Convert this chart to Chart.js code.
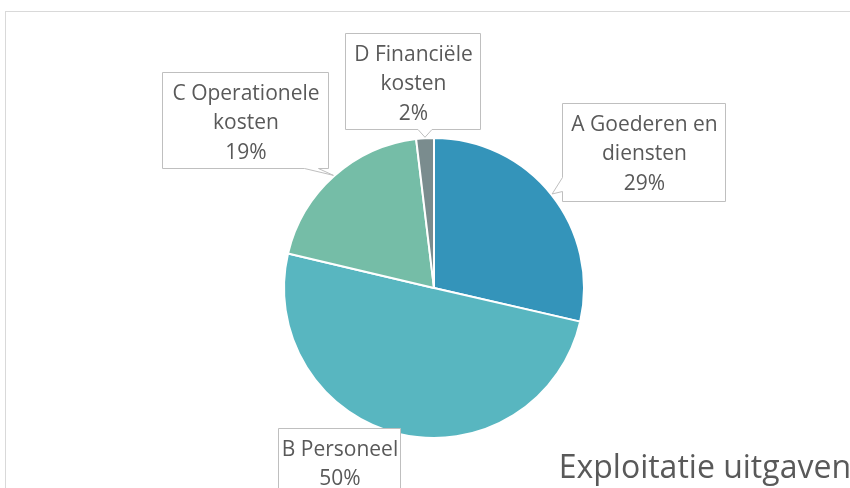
<!DOCTYPE html>
<html>
<head>
<meta charset="utf-8">
<script src="https://cdn.jsdelivr.net/npm/chart.js@4"></script>
<style>
  html, body { margin: 0; padding: 0; background: #fff; }
  #wrap { width: 850px; height: 488px; position: relative; }
</style>
</head>
<body>
<div id="wrap"><canvas id="pie"></canvas></div>
<script>
const categories = ["A Goederen en diensten", "B Personeel", "C Operationele kosten", "D Financiële kosten"];
const values = [28.6, 50.1, 19.4, 1.9];
const colors = ["#3494BA", "#58B6C0", "#75BDA7", "#7A8C8E"];
const chartTitle = "Exploitatie uitgaven";

// callout boxes, same order as categories (x, y, w, h in px)
const boxes = [
  { x: 562, y: 103, w: 163, h: 98 },
  { x: 278, y: 428, w: 122, h: 70 },
  { x: 162, y: 72, w: 166, h: 96 },
  { x: 345, y: 33, w: 135, h: 96 }
];

const textColor = "#595959";
const labelFont = '21px "Open Sans"';

function wrapText(ctx, text, maxW) {
  const words = text.split(" ");
  const lines = [];
  let cur = "";
  for (let w of words) {
    const test = cur ? cur + " " + w : w;
    if (ctx.measureText(test).width > maxW && cur) {
      lines.push(cur);
      cur = w;
    } else cur = test;
  }
  lines.push(cur);
  return lines;
}

function calloutPath(ctx, b, tip) {
  const x0 = b.x, y0 = b.y, x1 = b.x + b.w, y1 = b.y + b.h;
  const half = 7;
  let side = null;
  if (tip) {
    if (tip.y > y1) side = "bottom";
    else if (tip.y < y0) side = "top";
    else if (tip.x < x0) side = "left";
    else if (tip.x > x1) side = "right";
  }
  const clamp = (v, a, c) => Math.max(a, Math.min(c, v));
  ctx.beginPath();
  ctx.moveTo(x0, y0);
  ctx.lineTo(x1, y0);
  ctx.lineTo(x1, y1);
  if (side === "bottom") {
    const c = clamp(tip.x, x0 + 10 + half, x1 - 10 - half);
    ctx.lineTo(c + half, y1);
    ctx.lineTo(tip.x, tip.y);
    ctx.lineTo(c - half, y1);
  }
  ctx.lineTo(x0, y1);
  if (side === "left") {
    const c = clamp(tip.y, y0 + 10 + half, y1 - 10 - half);
    ctx.lineTo(x0, c + half);
    ctx.lineTo(tip.x, tip.y);
    ctx.lineTo(x0, c - half);
  }
  ctx.closePath();
}

const calloutPlugin = {
  id: "callouts",
  beforeDraw(chart) {
    const ctx = chart.ctx;
    ctx.save();
    ctx.fillStyle = "#fff";
    ctx.fillRect(0, 0, chart.width, chart.height);
    ctx.strokeStyle = "#D9D9D9";
    ctx.lineWidth = 1;
    ctx.strokeRect(5.5, 11.5, chart.width + 20, chart.height + 20);
    ctx.restore();
  },
  afterDraw(chart) {
    const ctx = chart.ctx;
    const meta = chart.getDatasetMeta(0);
    const total = values.reduce((a, b) => a + b, 0);
    ctx.save();
    meta.data.forEach((arc, i) => {
      const b = boxes[i];
      const mid = (arc.startAngle + arc.endAngle) / 2;
      const r = arc.outerRadius + 1;
      const tip = { x: arc.x + Math.cos(mid) * r, y: arc.y + Math.sin(mid) * r };
      calloutPath(ctx, { x: b.x + 0.5, y: b.y + 0.5, w: b.w, h: b.h }, tip);
      ctx.fillStyle = "#fff";
      ctx.fill();
      ctx.strokeStyle = "#BFBFBF";
      ctx.lineWidth = 1;
      ctx.stroke();

      ctx.font = labelFont;
      ctx.fillStyle = textColor;
      ctx.textAlign = "center";
      ctx.textBaseline = "middle";
      const lines = wrapText(ctx, categories[i], b.w);
      lines.push(Math.round(values[i] / total * 100) + "%");
      const lh = 29.5;
      const cx = b.x + b.w / 2 + 1;
      const top = b.y + 22;
      lines.forEach((t, k) => ctx.fillText(t, cx, top + k * lh));
    });
    ctx.font = '32px "Open Sans"';
    ctx.fillStyle = textColor;
    ctx.textAlign = "right";
    ctx.textBaseline = "alphabetic";
    ctx.fillText(chartTitle, 851, 478);
    ctx.restore();
  }
};

new Chart(document.getElementById("pie"), {
  type: "pie",
  data: {
    labels: categories,
    datasets: [{
      data: values,
      backgroundColor: colors,
      borderColor: "#fff",
      borderWidth: 2
    }]
  },
  options: {
    responsive: true,
    maintainAspectRatio: false,
    animation: false,
    layout: { padding: { top: 137, bottom: 49, left: 283, right: 265 } },
    plugins: {
      legend: { display: false },
      tooltip: { enabled: false },
      title: { display: false }
    }
  },
  plugins: [calloutPlugin]
});
</script>
</body>
</html>
